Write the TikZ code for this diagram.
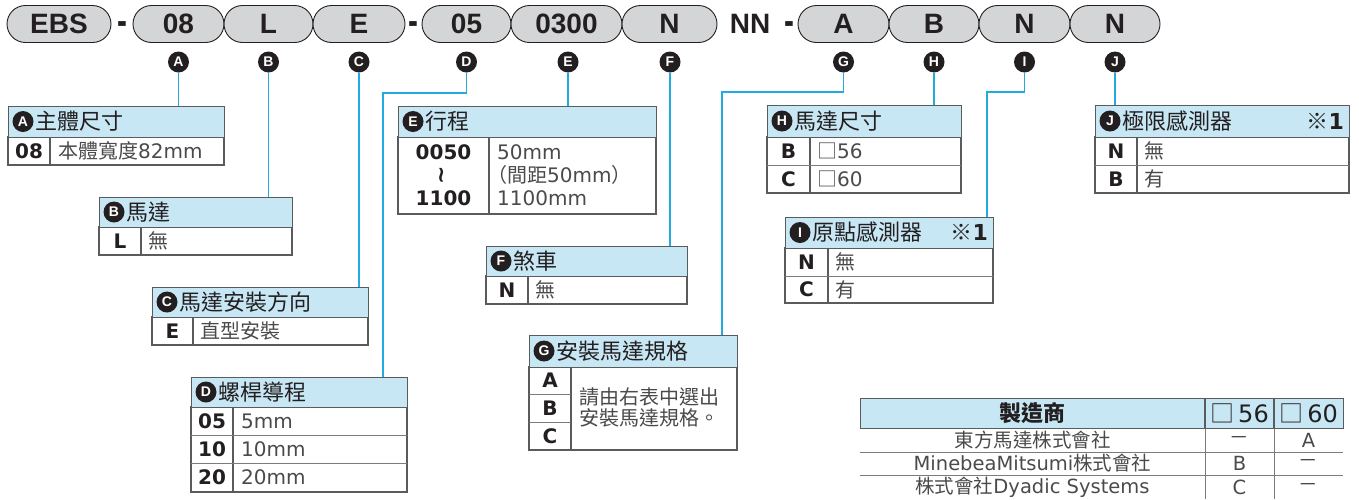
\documentclass[tikz,border=0pt]{standalone}
\usepackage{fontspec}
\setmainfont{Noto Sans CJK TC}
\newfontfamily\latfont{DejaVu Sans}
\newfontfamily\pillfont{Liberation Sans}
\usepackage{tikz}
\usetikzlibrary{calc}
\definecolor{ink}{HTML}{231F20}
\definecolor{frame}{HTML}{5A5B5D}
\definecolor{hdfill}{HTML}{C8E7F4}
\definecolor{pillfill}{HTML}{D4D5D7}
\definecolor{cyanline}{HTML}{22ABE0}
\definecolor{soft}{HTML}{4A4A4C}
\tikzset{
  pill/.style={draw=ink, fill=pillfill, rounded corners=18.5pt, line width=0.9pt, minimum height=37pt, inner sep=0pt, text=ink, font=\pillfont\bfseries\fontsize{28}{28}\selectfont},
  hyph/.style={text=ink, inner sep=0pt, anchor=base, font=\pillfont\bfseries\fontsize{27}{27}\selectfont},
  ltr/.style={circle, fill=ink, text=white, minimum size=21pt, inner sep=0pt, font=\pillfont\bfseries\fontsize{14}{14}\selectfont},
  wire/.style={draw=cyanline, line width=1.1pt},
  hdr/.style={draw=frame, fill=hdfill, line width=1.2pt, anchor=north west, inner sep=0pt},
  body/.style={draw=frame, line width=1.2pt},
  rowline/.style={draw=frame!80, line width=1pt},
  ttl/.style={anchor=west, text=ink, inner sep=0pt, font=\fontsize{22}{22}\selectfont},
  cd/.style={text=ink, inner sep=0pt, font=\latfont\bfseries\fontsize{20}{20}\selectfont},
  desc/.style={anchor=west, text=soft, inner sep=0pt, font=\fontsize{20}{20}\selectfont},
  mkh/.style={text=ink, inner sep=0pt, font=\bfseries\fontsize{22}{22}\selectfont},
  mkr/.style={text=soft, inner sep=0pt, font=\fontsize{19.5}{19.5}\selectfont},
}
\begin{document}
\begin{tikzpicture}[x=1pt,y=-1pt]
  \useasboundingbox (0,0) rectangle (1359,499);
  % code row
  \node[pill, minimum width=104pt] (pEBS) at (59,24) {EBS};
  \node[hyph] (y1) at (122,34.5) {\scalebox{1.1}[1.5]{-}};
  \node[pill, minimum width=91pt] (p08) at (178.5,24) {08};
  \node[pill, minimum width=89pt] (pL) at (268.5,24) {L};
  \node[pill, minimum width=92pt] (pE) at (359,24) {E};
  \node[hyph] (y2) at (413,34.5) {\scalebox{1.1}[1.5]{-}};
  \node[pill, minimum width=89pt] (p05) at (466.5,24) {05};
  \node[pill, minimum width=111pt] (p0300) at (566.5,24) {0300};
  \node[pill, minimum width=95pt] (pN) at (669.5,24) {N};
  \node[hyph, anchor=center, font=\pillfont\bfseries\fontsize{28}{28}\selectfont] (nn) at (750,24) {NN};
  \node[hyph] (y3) at (789,34.5) {\scalebox{1.1}[1.5]{-}};
  \node[pill, minimum width=91pt] (pA) at (843.5,24) {A};
  \node[pill, minimum width=90pt] (pB) at (934,24) {B};
  \node[pill, minimum width=91pt] (pN2) at (1024.5,24) {N};
  \node[pill, minimum width=90pt] (pN3) at (1115,24) {N};
  % letters
  \node[ltr] (cA) at (178.5,62) {A};
  \node[ltr] (cB) at (268.5,62) {B};
  \node[ltr] (cC) at (359,62) {C};
  \node[ltr] (cD) at (466.5,62) {D};
  \node[ltr] (cE) at (568,62) {E};
  \node[ltr] (cF) at (670,62) {F};
  \node[ltr] (cG) at (843.5,62) {G};
  \node[ltr] (cH) at (934,62) {H};
  \node[ltr] (cI) at (1024.5,62) {I};
  \node[ltr] (cJ) at (1115,62) {J};

  % A
  \draw[body] (8,137) rectangle (224,165) (50,137) -- (50,165);
  \node[hdr, minimum width=216pt, minimum height=31pt] (bxA) at (8,106) {};
  \node[ltr] (kA) at (23,121.5) {A};
  \node[ttl] (tA) at (35,121.5) {主體尺寸};
  \node[cd] (a1) at (29,151) {08};
  \node[desc] (a2) at (58,151) {本體寬度{\latfont 82mm}};
  % B
  \draw[body] (99,227) rectangle (292,255) (141,227) -- (141,255);
  \node[hdr, minimum width=193pt, minimum height=30pt] (bxB) at (99,197) {};
  \node[ltr] (kB) at (114,212) {B};
  \node[ttl] (tB) at (126,212) {馬達};
  \node[cd] (b1) at (120,241) {L};
  \node[desc] (b2) at (148,241) {無};
  % C
  \draw[body] (152,317) rectangle (368,345) (193,317) -- (193,345);
  \node[hdr, minimum width=216pt, minimum height=30pt] (bxC) at (152,287) {};
  \node[ltr] (kC) at (167,302) {C};
  \node[ttl] (tC) at (179,302) {馬達安裝方向};
  \node[cd] (c1) at (172.5,331) {E};
  \node[desc] (c2) at (200,331) {直型安裝};
  % D
  \draw[body] (191,407) rectangle (407,492) (233,407) -- (233,492);
  \draw[rowline] (191,435) -- (407,435) (191,463) -- (407,463);
  \node[hdr, minimum width=216pt, minimum height=30pt] (bxD) at (191,377) {};
  \node[ltr] (kD) at (206,392) {D};
  \node[ttl] (tD) at (218,392) {螺桿導程};
  \node[cd] (d1) at (212,421) {05};
  \node[desc] (d2) at (241,421) {\latfont 5mm};
  \node[cd] (d3) at (212,449) {10};
  \node[desc] (d4) at (241,449) {\latfont 10mm};
  \node[cd] (d5) at (212,477.5) {20};
  \node[desc] (d6) at (241,477.5) {\latfont 20mm};
  % E
  \draw[body] (398,137) rectangle (656,214) (489,137) -- (489,214);
  \node[hdr, minimum width=258pt, minimum height=31pt] (bxE) at (398,106) {};
  \node[ltr] (kE) at (413,121.5) {E};
  \node[ttl] (tE) at (425,121.5) {行程};
  \node[cd] (e1) at (443.5,152) {0050};
  \node[cd] (e2) at (443.5,175) {\rotatebox{90}{\fontsize{22}{22}\selectfont\textasciitilde}};
  \node[cd] (e3) at (443.5,198) {1100};
  \node[desc] (e4) at (497,152) {\latfont 50mm};
  \node[desc] (e5) at (487,175) {（間距{\latfont 50mm}）};
  \node[desc] (e6) at (497,198) {\latfont 1100mm};
  % F
  \draw[body] (486,276) rectangle (687,304) (528,276) -- (528,304);
  \node[hdr, minimum width=201pt, minimum height=30pt] (bxF) at (486,246) {};
  \node[ltr] (kF) at (501,261) {F};
  \node[ttl] (tF) at (513,261) {煞車};
  \node[cd] (f1) at (507,290) {N};
  \node[desc] (f2) at (535,290) {無};
  % G
  \draw[body] (529,367) rectangle (737,450) (571,367) -- (571,450);
  \draw[rowline] (529,394) -- (571,394) (529,422) -- (571,422);
  \node[hdr, minimum width=208pt, minimum height=32pt] (bxG) at (529,335) {};
  \node[ltr] (kG) at (544,351) {G};
  \node[ttl] (tG) at (556,351) {安裝馬達規格};
  \node[cd] (g1) at (550,380.5) {A};
  \node[cd] (g2) at (550,408) {B};
  \node[cd] (g3) at (550,436) {C};
  \node[desc, align=left, font=\fontsize{20}{20.5}\selectfont] (g4) at (579,407.5) {請由右表中選出\\安裝馬達規格。};
  % H
  \draw[body] (767,137) rectangle (961,193) (810,137) -- (810,193);
  \draw[rowline] (767,165) -- (961,165);
  \node[hdr, minimum width=194pt, minimum height=32pt] (bxH) at (767,105) {};
  \node[ltr] (kH) at (782,121) {H};
  \node[ttl] (tH) at (794,121) {馬達尺寸};
  \node[cd] (h1) at (788.5,151) {B};
  \node[desc] (h2) at (817,151) {□{\latfont 56}};
  \node[cd] (h3) at (788.5,179) {C};
  \node[desc] (h4) at (817,179) {□{\latfont 60}};
  % I
  \draw[body] (785,248) rectangle (993,303) (828,248) -- (828,303);
  \draw[rowline] (785,276) -- (993,276);
  \node[hdr, minimum width=208pt, minimum height=31pt] (bxI) at (785,217) {};
  \node[ltr] (kI) at (800,232.5) {I};
  \node[ttl] (tI) at (812,232.5) {原點感測器};
  \node[ttl, anchor=east] (nI) at (988,232.5) {※{\latfont\bfseries 1}};
  \node[cd] (i1) at (806.5,262) {N};
  \node[desc] (i2) at (835,262) {無};
  \node[cd] (i3) at (806.5,289.5) {C};
  \node[desc] (i4) at (835,289.5) {有};
  % J
  \draw[body] (1095,137) rectangle (1349,193) (1137,137) -- (1137,193);
  \draw[rowline] (1095,165) -- (1349,165);
  \node[hdr, minimum width=254pt, minimum height=32pt] (bxJ) at (1095,105) {};
  \node[ltr] (kJ) at (1110,121) {J};
  \node[ttl] (tJ) at (1122,121) {極限感測器};
  \node[ttl, anchor=east] (nJ) at (1344,121) {※{\latfont\bfseries 1}};
  \node[cd] (j1) at (1116,151) {N};
  \node[desc] (j2) at (1144,151) {無};
  \node[cd] (j3) at (1116,179) {B};
  \node[desc] (j4) at (1144,179) {有};

  % connectors
  \draw[wire] (cA.south) -- (cA.south |- bxA.north);
  \draw[wire] (cB.south) -- (cB.south |- bxB.north);
  \draw[wire] (cC.south) -- (cC.south |- bxC.north);
  \coordinate (dk) at (383,93);
  \draw[wire] (cD.south) |- (dk) -- (dk |- bxD.north);
  \draw[wire] (cE.south) -- (cE.south |- bxE.north);
  \draw[wire] (cF.south) -- (cF.south |- bxF.north);
  \coordinate (gk) at (722,92);
  \draw[wire] (cG.south) |- (gk) -- (gk |- bxG.north);
  \draw[wire] (cH.south) -- (cH.south |- bxH.north);
  \coordinate (ik) at (987,92);
  \draw[wire] (cI.south) |- (ik) -- (ik |- bxI.north);
  \draw[wire] (cJ.south) -- (cJ.south |- bxJ.north);

  % maker table
  \draw[rowline] (860,452) -- (1343,452) (860,475) -- (1343,475)
    (1205,428) -- (1205,499) (1274,428) -- (1274,499);
  \node[hdr, minimum width=483pt, minimum height=30pt] (mk) at (860,398) {};
  \draw[body] (1205,398) -- (1205,428) (1274,398) -- (1274,428);
  \node[mkh] (m1) at (1032.5,413) {製造商};
  \node[mkh, font=\fontsize{24}{24}\selectfont] (m2) at (1239.5,413) {□\,{\latfont 56}};
  \node[mkh, font=\fontsize{24}{24}\selectfont] (m3) at (1308.5,413) {□\,{\latfont 60}};
  \node[mkr] (r1) at (1032.5,440) {東方馬達株式會社};
  \node[mkr] (r2) at (1239.5,440) {－};
  \node[mkr] (r3) at (1308.5,440) {\latfont A};
  \node[mkr] (r4) at (1032.5,463.5) {{\latfont MinebeaMitsumi}株式會社};
  \node[mkr] (r5) at (1239.5,463.5) {\latfont B};
  \node[mkr] (r6) at (1308.5,463.5) {－};
  \node[mkr] (r7) at (1032.5,487) {株式會社{\latfont Dyadic Systems}};
  \node[mkr] (r8) at (1239.5,487) {\latfont C};
  \node[mkr] (r9) at (1308.5,487) {－};
\end{tikzpicture}
\end{document}
